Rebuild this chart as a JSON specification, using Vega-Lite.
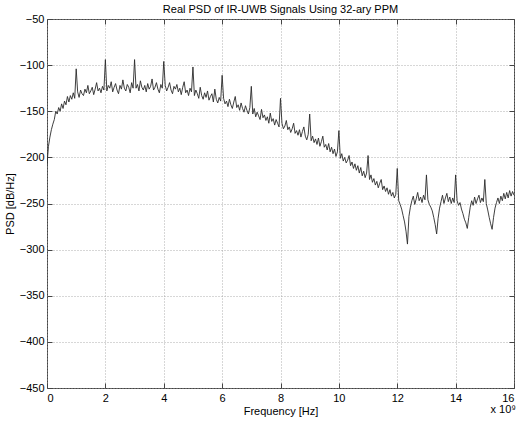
{
"$schema": "https://vega.github.io/schema/vega-lite/v6.json",
"width": 467,
"height": 369,
"autosize": {"type": "none"},
"padding": {"left": 47, "top": 19, "right": 6, "bottom": 34},
"background": "white",
"title": {"text": "Real PSD of IR-UWB Signals Using 32-ary PPM", "font": "Liberation Sans", "fontSize": 11, "fontWeight": "normal", "color": "#000", "offset": -2, "frame": "group"},
"config": {
  "view": {"stroke": "#444", "strokeWidth": 1},
  "axis": {
    "labelFont": "Liberation Sans", "labelFontSize": 11, "labelColor": "#000",
    "titleFont": "Liberation Sans", "titleFontSize": 11, "titleFontWeight": "normal", "titleColor": "#000",
    "gridColor": "#999", "gridDash": [1, 2], "gridWidth": 0.8,
    "domain": false, "tickColor": "#444", "tickSize": -5, "tickWidth": 1
  }
},
"data": {"values": [
{"f":0,"psd":-208},{"f":0.05,"psd":-188},{"f":0.1,"psd":-178},{"f":0.15,"psd":-170},{"f":0.2,"psd":-164},{"f":0.25,"psd":-159},{"f":0.3,"psd":-150},{"f":0.35,"psd":-153},{"f":0.4,"psd":-146},{"f":0.45,"psd":-150},
{"f":0.5,"psd":-142},{"f":0.55,"psd":-147},{"f":0.6,"psd":-139},{"f":0.65,"psd":-143},{"f":0.7,"psd":-134},{"f":0.75,"psd":-140},{"f":0.8,"psd":-133},{"f":0.85,"psd":-137},{"f":0.9,"psd":-130},{"f":0.95,"psd":-136},
{"f":1,"psd":-104},{"f":1.05,"psd":-129},{"f":1.1,"psd":-135},{"f":1.15,"psd":-127},{"f":1.2,"psd":-131},{"f":1.25,"psd":-133},{"f":1.3,"psd":-126},{"f":1.35,"psd":-130},{"f":1.4,"psd":-122},{"f":1.45,"psd":-131},
{"f":1.5,"psd":-128},{"f":1.55,"psd":-124},{"f":1.6,"psd":-132},{"f":1.65,"psd":-126},{"f":1.7,"psd":-119},{"f":1.75,"psd":-128},{"f":1.8,"psd":-125},{"f":1.85,"psd":-130},{"f":1.9,"psd":-123},{"f":1.95,"psd":-127},
{"f":2,"psd":-94},{"f":2.05,"psd":-128},{"f":2.1,"psd":-122},{"f":2.15,"psd":-125},{"f":2.2,"psd":-118},{"f":2.25,"psd":-129},{"f":2.3,"psd":-124},{"f":2.35,"psd":-120},{"f":2.4,"psd":-127},{"f":2.45,"psd":-131},
{"f":2.5,"psd":-122},{"f":2.55,"psd":-126},{"f":2.6,"psd":-116},{"f":2.65,"psd":-125},{"f":2.7,"psd":-128},{"f":2.75,"psd":-121},{"f":2.8,"psd":-124},{"f":2.85,"psd":-130},{"f":2.9,"psd":-119},{"f":2.95,"psd":-125},
{"f":3,"psd":-94},{"f":3.05,"psd":-125},{"f":3.1,"psd":-121},{"f":3.15,"psd":-128},{"f":3.2,"psd":-117},{"f":3.25,"psd":-124},{"f":3.3,"psd":-127},{"f":3.35,"psd":-122},{"f":3.4,"psd":-129},{"f":3.45,"psd":-120},
{"f":3.5,"psd":-126},{"f":3.55,"psd":-123},{"f":3.6,"psd":-115},{"f":3.65,"psd":-127},{"f":3.7,"psd":-124},{"f":3.75,"psd":-119},{"f":3.8,"psd":-126},{"f":3.85,"psd":-130},{"f":3.9,"psd":-121},{"f":3.95,"psd":-125},
{"f":4,"psd":-96},{"f":4.05,"psd":-122},{"f":4.1,"psd":-128},{"f":4.15,"psd":-124},{"f":4.2,"psd":-119},{"f":4.25,"psd":-127},{"f":4.3,"psd":-131},{"f":4.35,"psd":-123},{"f":4.4,"psd":-126},{"f":4.45,"psd":-121},
{"f":4.5,"psd":-129},{"f":4.55,"psd":-125},{"f":4.6,"psd":-132},{"f":4.65,"psd":-124},{"f":4.7,"psd":-118},{"f":4.75,"psd":-130},{"f":4.8,"psd":-127},{"f":4.85,"psd":-133},{"f":4.9,"psd":-125},{"f":4.95,"psd":-129},
{"f":5,"psd":-102},{"f":5.05,"psd":-133},{"f":5.1,"psd":-127},{"f":5.15,"psd":-131},{"f":5.2,"psd":-136},{"f":5.25,"psd":-124},{"f":5.3,"psd":-133},{"f":5.35,"psd":-137},{"f":5.4,"psd":-130},{"f":5.45,"psd":-135},
{"f":5.5,"psd":-128},{"f":5.55,"psd":-138},{"f":5.6,"psd":-134},{"f":5.65,"psd":-131},{"f":5.7,"psd":-140},{"f":5.75,"psd":-126},{"f":5.8,"psd":-137},{"f":5.85,"psd":-141},{"f":5.9,"psd":-135},{"f":5.95,"psd":-139},
{"f":6,"psd":-111},{"f":6.05,"psd":-136},{"f":6.1,"psd":-142},{"f":6.15,"psd":-139},{"f":6.2,"psd":-145},{"f":6.25,"psd":-137},{"f":6.3,"psd":-143},{"f":6.35,"psd":-147},{"f":6.4,"psd":-140},{"f":6.45,"psd":-134},
{"f":6.5,"psd":-146},{"f":6.55,"psd":-143},{"f":6.6,"psd":-149},{"f":6.65,"psd":-141},{"f":6.7,"psd":-147},{"f":6.75,"psd":-151},{"f":6.8,"psd":-144},{"f":6.85,"psd":-149},{"f":6.9,"psd":-153},{"f":6.95,"psd":-146},
{"f":7,"psd":-123},{"f":7.05,"psd":-153},{"f":7.1,"psd":-147},{"f":7.15,"psd":-156},{"f":7.2,"psd":-151},{"f":7.25,"psd":-155},{"f":7.3,"psd":-159},{"f":7.35,"psd":-148},{"f":7.4,"psd":-157},{"f":7.45,"psd":-154},
{"f":7.5,"psd":-160},{"f":7.55,"psd":-156},{"f":7.6,"psd":-163},{"f":7.65,"psd":-152},{"f":7.7,"psd":-161},{"f":7.75,"psd":-158},{"f":7.8,"psd":-165},{"f":7.85,"psd":-159},{"f":7.9,"psd":-163},{"f":7.95,"psd":-167},
{"f":8,"psd":-136},{"f":8.05,"psd":-163},{"f":8.1,"psd":-169},{"f":8.15,"psd":-166},{"f":8.2,"psd":-160},{"f":8.25,"psd":-170},{"f":8.3,"psd":-167},{"f":8.35,"psd":-173},{"f":8.4,"psd":-169},{"f":8.45,"psd":-163},
{"f":8.5,"psd":-174},{"f":8.55,"psd":-171},{"f":8.6,"psd":-176},{"f":8.65,"psd":-170},{"f":8.7,"psd":-178},{"f":8.75,"psd":-172},{"f":8.8,"psd":-167},{"f":8.85,"psd":-177},{"f":8.9,"psd":-181},{"f":8.95,"psd":-175},
{"f":9,"psd":-153},{"f":9.05,"psd":-182},{"f":9.1,"psd":-177},{"f":9.15,"psd":-184},{"f":9.2,"psd":-180},{"f":9.25,"psd":-186},{"f":9.3,"psd":-179},{"f":9.35,"psd":-188},{"f":9.4,"psd":-183},{"f":9.45,"psd":-177},
{"f":9.5,"psd":-189},{"f":9.55,"psd":-186},{"f":9.6,"psd":-192},{"f":9.65,"psd":-185},{"f":9.7,"psd":-194},{"f":9.75,"psd":-189},{"f":9.8,"psd":-196},{"f":9.85,"psd":-191},{"f":9.9,"psd":-199},{"f":9.95,"psd":-194},
{"f":10,"psd":-171},{"f":10.05,"psd":-201},{"f":10.1,"psd":-196},{"f":10.15,"psd":-204},{"f":10.2,"psd":-200},{"f":10.25,"psd":-206},{"f":10.3,"psd":-203},{"f":10.35,"psd":-198},{"f":10.4,"psd":-209},{"f":10.45,"psd":-205},
{"f":10.5,"psd":-212},{"f":10.55,"psd":-207},{"f":10.6,"psd":-214},{"f":10.65,"psd":-209},{"f":10.7,"psd":-217},{"f":10.75,"psd":-211},{"f":10.8,"psd":-220},{"f":10.85,"psd":-215},{"f":10.9,"psd":-222},{"f":10.95,"psd":-217},
{"f":11,"psd":-198},{"f":11.05,"psd":-224},{"f":11.1,"psd":-219},{"f":11.15,"psd":-227},{"f":11.2,"psd":-223},{"f":11.25,"psd":-230},{"f":11.3,"psd":-226},{"f":11.35,"psd":-233},{"f":11.4,"psd":-228},{"f":11.45,"psd":-224},
{"f":11.5,"psd":-235},{"f":11.55,"psd":-231},{"f":11.6,"psd":-237},{"f":11.65,"psd":-233},{"f":11.7,"psd":-240},{"f":11.75,"psd":-235},{"f":11.8,"psd":-242},{"f":11.85,"psd":-238},{"f":11.9,"psd":-244},{"f":11.95,"psd":-240},
{"f":12,"psd":-212},{"f":12.05,"psd":-247},{"f":12.1,"psd":-251},{"f":12.15,"psd":-256},{"f":12.2,"psd":-263},{"f":12.25,"psd":-270},{"f":12.3,"psd":-280},{"f":12.35,"psd":-294},{"f":12.4,"psd":-264},{"f":12.45,"psd":-254},
{"f":12.5,"psd":-247},{"f":12.55,"psd":-242},{"f":12.6,"psd":-251},{"f":12.65,"psd":-245},{"f":12.7,"psd":-238},{"f":12.75,"psd":-247},{"f":12.8,"psd":-243},{"f":12.85,"psd":-249},{"f":12.9,"psd":-241},{"f":12.95,"psd":-246},
{"f":13,"psd":-219},{"f":13.05,"psd":-246},{"f":13.1,"psd":-251},{"f":13.15,"psd":-254},{"f":13.2,"psd":-258},{"f":13.25,"psd":-265},{"f":13.3,"psd":-273},{"f":13.35,"psd":-283},{"f":13.4,"psd":-266},{"f":13.45,"psd":-255},
{"f":13.5,"psd":-248},{"f":13.55,"psd":-241},{"f":13.6,"psd":-250},{"f":13.65,"psd":-244},{"f":13.7,"psd":-239},{"f":13.75,"psd":-248},{"f":13.8,"psd":-243},{"f":13.85,"psd":-250},{"f":13.9,"psd":-244},{"f":13.95,"psd":-249},
{"f":14,"psd":-219},{"f":14.05,"psd":-247},{"f":14.1,"psd":-252},{"f":14.15,"psd":-249},{"f":14.2,"psd":-256},{"f":14.25,"psd":-261},{"f":14.3,"psd":-267},{"f":14.35,"psd":-271},{"f":14.4,"psd":-277},{"f":14.45,"psd":-265},
{"f":14.5,"psd":-254},{"f":14.55,"psd":-247},{"f":14.6,"psd":-252},{"f":14.65,"psd":-243},{"f":14.7,"psd":-250},{"f":14.75,"psd":-245},{"f":14.8,"psd":-241},{"f":14.85,"psd":-249},{"f":14.9,"psd":-244},{"f":14.95,"psd":-248},
{"f":15,"psd":-224},{"f":15.05,"psd":-250},{"f":15.1,"psd":-257},{"f":15.15,"psd":-265},{"f":15.2,"psd":-272},{"f":15.25,"psd":-278},{"f":15.3,"psd":-265},{"f":15.35,"psd":-255},{"f":15.4,"psd":-249},{"f":15.45,"psd":-244},
{"f":15.5,"psd":-250},{"f":15.55,"psd":-242},{"f":15.6,"psd":-247},{"f":15.65,"psd":-239},{"f":15.7,"psd":-245},{"f":15.75,"psd":-238},{"f":15.8,"psd":-244},{"f":15.85,"psd":-236},{"f":15.9,"psd":-242},{"f":15.95,"psd":-237},
{"f":16,"psd":-241}
]},
"layer": [
  {
    "mark": {"type": "line", "color": "#2a2a2a", "strokeWidth": 0.9, "clip": true},
    "encoding": {
      "x": {"field": "f", "type": "quantitative", "scale": {"domain": [0, 16], "nice": false},
            "axis": {"values": [0, 2, 4, 6, 8, 10, 12, 14, 16], "grid": true, "title": "Frequency [Hz]", "labelPadding": 9, "titlePadding": 2}},
      "y": {"field": "psd", "type": "quantitative", "scale": {"domain": [-450, -50], "nice": false},
            "axis": {"values": [-450, -400, -350, -300, -250, -200, -150, -100, -50], "grid": true, "title": "PSD [dB/Hz]", "labelPadding": 8, "titlePadding": 4}}
    }
  },
  {
    "data": {"values": [{"f": 16, "psd": -450, "note": "x 10⁹"}]},
    "mark": {"type": "text", "align": "right", "baseline": "middle", "dx": 2, "dy": 22, "font": "Liberation Sans", "fontSize": 11, "color": "#000"},
    "encoding": {
      "x": {"field": "f", "type": "quantitative",
            "axis": {"orient": "top", "values": [0, 2, 4, 6, 8, 10, 12, 14, 16], "labels": false, "title": null, "grid": false}},
      "y": {"field": "psd", "type": "quantitative",
            "axis": {"orient": "right", "values": [-450, -400, -350, -300, -250, -200, -150, -100, -50], "labels": false, "title": null, "grid": false}},
      "text": {"field": "note"}
    }
  }
],
"resolve": {"axis": {"x": "independent", "y": "independent"}}
}
